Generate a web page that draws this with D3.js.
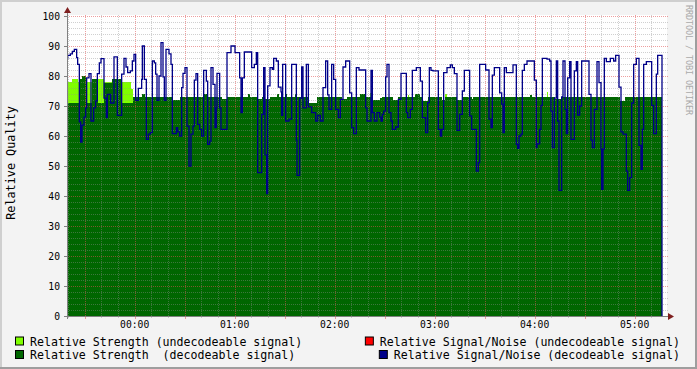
<!DOCTYPE html>
<html><head><meta charset="utf-8">
<script src="https://cdn.jsdelivr.net/npm/d3@7/dist/d3.min.js"></script>
<style>body{margin:0;background:#f3f3f3}svg{display:block}text{white-space:pre}</style>
</head><body><svg id="c" width="697" height="369"></svg>
<script>
// ---- data (time in minutes relative to 00:00, values = relative quality) ----
const yTicks = [0,10,20,30,40,50,60,70,80,90,100];
const xTickLabels = ["00:00","01:00","02:00","03:00","04:00","05:00"];
const timeStart = -40.6, timeEnd = 319.4;

const seriesNames = [
  "Relative Strength (undecodeable signal)",
  "Relative Strength  (decodeable signal)",
  "Relative Signal/Noise (undecodeable signal)",
  "Relative Signal/Noise (decodeable signal)"
];
const seriesColors = ["#80ff00","#006600","#ff0000","#000088"];

// Relative Strength (undecodeable) : [minute, value]
const undecStrength = [[-40.6,78],[-37.4,78.9],[-34,78],[-21.8,78.9],[-18.2,78],[-2.2,75.6],[-1.2,73.5],[-0.8,0],
  [141.2,74.4],[142.8,0],[163.8,73.6],[164.6,0],[186.2,74],[187.4,0],[247.2,74.6],[248.2,0]];

// Relative Strength (decodeable)
const decStrength = [[-40.6,71],[-33,78.9],[-31.4,79.9],[-29.4,78.9],[-28.6,71],[-25.4,78.9],[-21.8,71],[-18.2,77.8],
  [-13.8,78.9],[-8.2,71],[-0.8,73],[4.6,73.9],[6.2,73],[22.6,71.9],[27.2,73],[41.8,73.9],[43.4,73],[52.6,72.2],
  [55.4,73],[68.2,73.9],[69.4,73],[74.2,72.2],[76.2,73],[78.2,72.2],[81.2,73],[85.4,73.9],[86.6,73],[90.2,73.9],
  [91.4,73],[96.2,73.9],[97,73],[104.6,71.1],[109.2,73],[124.2,72.2],[127.2,73],[135.2,73.9],[138.2,73],[143.2,71.9],
  [147.2,72.6],[148.2,73],[155.2,71.9],[158.2,73],[168.2,73.9],[171.2,73],[173.2,71.7],[176.2,73],[184.2,71.9],
  [186.2,73],[193.2,71.9],[196.2,73],[202.2,72.2],[203.2,73],[237.2,73.7],[238.6,73],[252.2,72.2],[256.2,73],
  [291.2,71.7],[294.2,73],[316.4,0]];

// Relative Signal/Noise (undecodeable) - nothing visible
const undecSnr = [];

// Relative Signal/Noise (decodeable)
const decSnr = [[-40.6,85.8],[-40.2,86.9],[-38.6,87.4],[-37.4,88.2],[-36.2,88.9],[-34.8,86.1],[-34.2,83.9],[-33.2,64.7],
  [-32.4,58],[-31.6,63.6],[-30.4,66.3],[-29.4,69.4],[-28.8,79.4],[-27.4,80.8],[-26.2,65],[-24.6,69.4],[-23.4,71.7],
  [-22.4,80.8],[-21.2,84.4],[-20.2,85.8],[-18.4,72.6],[-17,66.1],[-16.4,73.9],[-14.4,71],[-12.4,86.4],[-10.4,66.9],
  [-7.8,80.6],[-6.4,85.9],[-5.2,83],[-4.2,81.1],[-2.6,81.7],[-1.4,85],[-0.4,87.2],[0.6,71.9],[2.2,75.9],[4.2,78.9],
  [4.6,90],[5.8,78.9],[7,58.9],[8.2,60.6],[9.4,61.1],[10.6,85],[11.8,84.4],[12.6,80.6],[13.4,71.9],[14.6,80],
  [15.8,91.1],[17,79.7],[17.8,71.9],[18.8,88.9],[20.6,87.4],[21.8,83.9],[22.6,60.8],[25,62.8],[25.8,61.4],[27,60],
  [28.2,76.1],[29,80.9],[30.2,82.8],[31.4,63.3],[32.6,50],[33.8,60.6],[35,63.3],[35.8,78.6],[36.8,80.8],[37.8,63.9],
  [39,62.2],[40.2,60],[41.4,81.9],[43,78.3],[43.8,57.2],[45,58.3],[45.8,82.8],[47,77.2],[48.2,62.8],
  [49,69.4],[49.4,80.9],[51,69.4],[51.8,62.2],[55.4,87.8],[57.8,90],[60.2,87.8],[63,79.4],[63.8,67.8],[64.6,79.4],
  [65.8,88],[70.2,82.8],[71.8,83.9],[73,87.8],[73.8,47.8],[76.2,67.2],[77.4,82.8],[78.2,53.7],[79.2,40.8],[79.8,76.7],
  [81.2,82.8],[82.6,82.2],[83.4,85.9],[85,85],[86.2,76.3],[87.8,74.7],[88.2,66.9],[88.8,83.9],[90.6,65],[92.6,65.6],
  [94.2,83.9],[97,58.6],[97.4,46.9],[99,72.6],[100.2,83],[101,69.4],[103,83.9],[104.2,69.7],[106.2,67.8],[108.6,65],
  [109.8,66.9],[111.4,65],[113,76.1],[114.6,85],[115.8,73.7],[116.6,68.9],[118.2,83.9],[119.4,78.9],[120.6,68.9],
  [122.2,66.1],[123.4,72.2],[125,83],[126.6,85],[129,74.4],[130.2,62.8],[131.4,60.8],[133,82.8],[134.6,82],[138.6,69.4],
  [139.4,65],[141.8,81.9],[142.6,67.8],[143.8,65],[145.4,67.8],[147,66.3],[147.8,65],[148.6,67.2],[149.4,68.3],
  [150.6,79.7],[151.4,83.9],[152.6,67.8],[153.8,65],[154.6,62.2],[156.6,63],[158.2,72.2],[159.8,80.9],[163,67.8],
  [163.8,66.1],[165.4,68.9],[166.6,81.9],[169,82.8],[171.4,78.3],[172.6,66.1],[174.6,61.1],[175.8,71.1],[176.8,82.8],
  [177.8,81.9],[179,81.7],[182.2,62.2],[183.4,60],[184.2,62.2],[185.4,81.1],[187.4,82.8],[189.4,83.7],[190.6,82.8],
  [191.8,80.8],[193.4,61.9],[195,67.2],[196.6,75],[197.8,81.9],[201,66.7],[202.2,62.2],[205,48.3],[206.2,51.1],
  [207,83.9],[210.6,82],[212.6,65.6],[213.8,62.8],[214.6,80.3],[215.8,82.8],[219,74.4],[220.2,70.6],[221,61.1],
  [221.8,82.8],[223,81.1],[227,83.7],[229,57.2],
  [229.8,55.9],[230.6,60],[231.8,60.6],[232.6,81.9],[233.8,83.9],[235.4,85],[239.8,78.6],[241,56.1],[241.4,57.4],
  [243,62.2],[243.8,70.2],[244.6,85.9],[247.4,85.6],[249,85],[249.8,68.3],[250.6,56.1],[251.8,72.6],[253,85],
  [253.8,65],[254.6,41.9],[256.2,73],[257,85],[258.2,68.9],[259,60.8],[259.8,79.4],[261,84.8],[261.8,58.9],
  [263.8,81.7],[265,84.8],[265.8,67],[267,70],[268.2,85],[272.6,73.9],[273.8,58.6],[274.6,56.1],[275.8,68.9],
  [277.4,84.8],[278.6,77.8],[279.8,55.6],[280.2,42.2],[281,55.6],[281.8,85.9],[283,84.8],[285.4,85.9],[287.4,85],
  [288.6,86.9],[290.6,76.3],[291.8,61.4],[293,60.6],[295,48.3],[295.8,41.9],[297,46.1],[298.2,71],[299.4,83.9],
  [301,85.9],[302.6,56.9],[303.8,48.9],[304.6,62.2],[305.4,83.9],[307,84.8],[310.2,70.2],[311.4,60.8],[313,80.6],
  [313.8,86.9],[316.4,0]];

// ---- drawing ----
const W = 697, H = 369;
const P = {left:67, right:667, top:16, bottom:316};
const svg = d3.select('#c');
const x = d3.scaleLinear().domain([timeStart, timeEnd]).range([P.left, P.right]);
const y = d3.scaleLinear().domain([0, 100]).range([P.bottom, P.top]);
const mono = "'DejaVu Sans Mono', monospace";

svg.append('rect').attr('width', W).attr('height', H).attr('fill', '#f3f3f3');
// 3D border
svg.append('rect').attr('x',0).attr('y',0).attr('width',W).attr('height',2).attr('fill','#cfcfcf');
svg.append('rect').attr('x',0).attr('y',0).attr('width',2).attr('height',H).attr('fill','#cfcfcf');
svg.append('rect').attr('x',0).attr('y',H-2).attr('width',W).attr('height',2).attr('fill','#9e9e9e');
svg.append('rect').attr('x',W-2).attr('y',0).attr('width',2).attr('height',H).attr('fill','#9e9e9e');

// canvas
svg.append('rect').attr('x', P.left).attr('y', P.top - 1).attr('width', P.right - P.left).attr('height', P.bottom - P.top + 1).attr('fill', '#fff');

const area = d3.area().curve(d3.curveStepAfter)
  .x(d => x(d[0])).y0(y(0)).y1(d => y(d[1]));
const line = d3.line().curve(d3.curveStepAfter)
  .x(d => x(d[0])).y(d => y(d[1]));

svg.append('path').datum(undecStrength).attr('d', area).attr('fill', seriesColors[0]).attr('shape-rendering','crispEdges');
svg.append('path').datum(decStrength).attr('d', area).attr('fill', seriesColors[1]).attr('shape-rendering','crispEdges');

// grid
const g = svg.append('g').attr('shape-rendering', 'crispEdges');
const minorC = 'rgba(143,143,143,0.42)', majorC = 'rgba(222,80,80,0.55)';
d3.range(2, 100, 2).filter(v => v % 10 !== 0).forEach(v => {
  g.append('line').attr('x1', P.left).attr('x2', P.right + 2).attr('y1', Math.round(y(v)) + 0.5).attr('y2', Math.round(y(v)) + 0.5)
   .attr('stroke', minorC).attr('stroke-dasharray', '1,1');
});
yTicks.filter(v => v > 0).forEach(v => {
  g.append('line').attr('x1', P.left).attr('x2', P.right + 2).attr('y1', Math.round(y(v)) + 0.5).attr('y2', Math.round(y(v)) + 0.5)
   .attr('stroke', majorC).attr('stroke-dasharray', '1,1');
});
d3.range(-40, timeEnd, 10).forEach(m => {
  const major = m % 30 === 0;
  const xx = Math.round(x(m)) + 0.5;
  if (xx <= P.left + 1) return;
  g.append('line').attr('x1', xx).attr('x2', xx).attr('y1', P.top - 1).attr('y2', P.bottom)
   .attr('stroke', major ? majorC : minorC).attr('stroke-dasharray', '1,1');
  g.append('line').attr('x1', xx).attr('x2', xx).attr('y1', P.bottom).attr('y2', P.bottom + (major ? 3 : 2))
   .attr('stroke', major ? majorC : minorC);
});

// series lines
if (undecSnr.length) svg.append('path').datum(undecSnr).attr('d', line).attr('fill','none').attr('stroke', seriesColors[2]).attr('stroke-width', 1.3);
svg.append('path').datum(decSnr).attr('d', line).attr('fill','none').attr('stroke', seriesColors[3]).attr('stroke-width', 1.3);

// axes
const axisC = '#808080', arrowC = '#7f1f1f';
svg.append('line').attr('x1', P.left + 0.5).attr('x2', P.left + 0.5).attr('y1', P.bottom + 3).attr('y2', 11).attr('stroke', axisC);
svg.append('line').attr('x1', P.left - 3).attr('x2', 670).attr('y1', P.bottom + 0.5).attr('y2', P.bottom + 0.5).attr('stroke', axisC);
svg.append('path').attr('d', `M${P.left - 3},13 L${P.left + 0.5},7 L${P.left + 4},13 Z`).attr('fill', arrowC);
svg.append('path').attr('d', `M668,${P.bottom - 3} L674,${P.bottom + 0.5} L668,${P.bottom + 4} Z`).attr('fill', arrowC);

yTicks.forEach(v => {
  svg.append('line').attr('x1', P.left - 3).attr('x2', P.left).attr('y1', Math.round(y(v)) + 0.5).attr('y2', Math.round(y(v)) + 0.5).attr('stroke', axisC);
  svg.append('text').attr('x', 60).attr('y', y(v) + 3.5).attr('text-anchor', 'end')
    .attr('font-family', mono).attr('font-size', '9.7px').attr('fill', '#000').text(String(v));
});
xTickLabels.forEach(lbl => {
  const [hh, mm] = lbl.split(':').map(Number);
  svg.append('text').attr('x', x(hh * 60 + mm)).attr('y', 328).attr('text-anchor', 'middle')
    .attr('font-family', mono).attr('font-size', '9.7px').attr('fill', '#000').text(lbl);
});

// y title
svg.append('text').attr('transform', 'translate(15,163) rotate(-90)').attr('text-anchor', 'middle')
  .attr('font-family', mono).attr('font-size', '11.8px').attr('fill', '#000').text('Relative Quality');

// watermark
svg.append('text').attr('transform', 'translate(686,60) rotate(90)').attr('text-anchor', 'middle')
  .attr('font-family', mono).attr('font-size', '8.5px').attr('fill', '#aaaaaa')
  .attr('textLength', 110).attr('lengthAdjust', 'spacing').text('RRDTOOL / TOBI OETIKER');

// legend
function legendItem(i, tx, ty, anchor) {
  const t = svg.append('text').attr('x', tx).attr('y', ty).attr('text-anchor', anchor)
    .attr('font-family', mono).attr('font-size', '11.6px').attr('fill', '#000').text(seriesNames[i]);
  const len = t.node().getComputedTextLength();
  const start = anchor === 'end' ? tx - len : tx;
  svg.append('rect').attr('x', start - 14.5).attr('y', ty - 8.5).attr('width', 8).attr('height', 8)
    .attr('fill', seriesColors[i]).attr('stroke', '#000').attr('stroke-width', 1);
}
legendItem(0, 30, 345.5, 'start');
legendItem(2, 680, 345.5, 'end');
legendItem(1, 30, 359, 'start');
legendItem(3, 680, 359, 'end');
</script></body></html>
